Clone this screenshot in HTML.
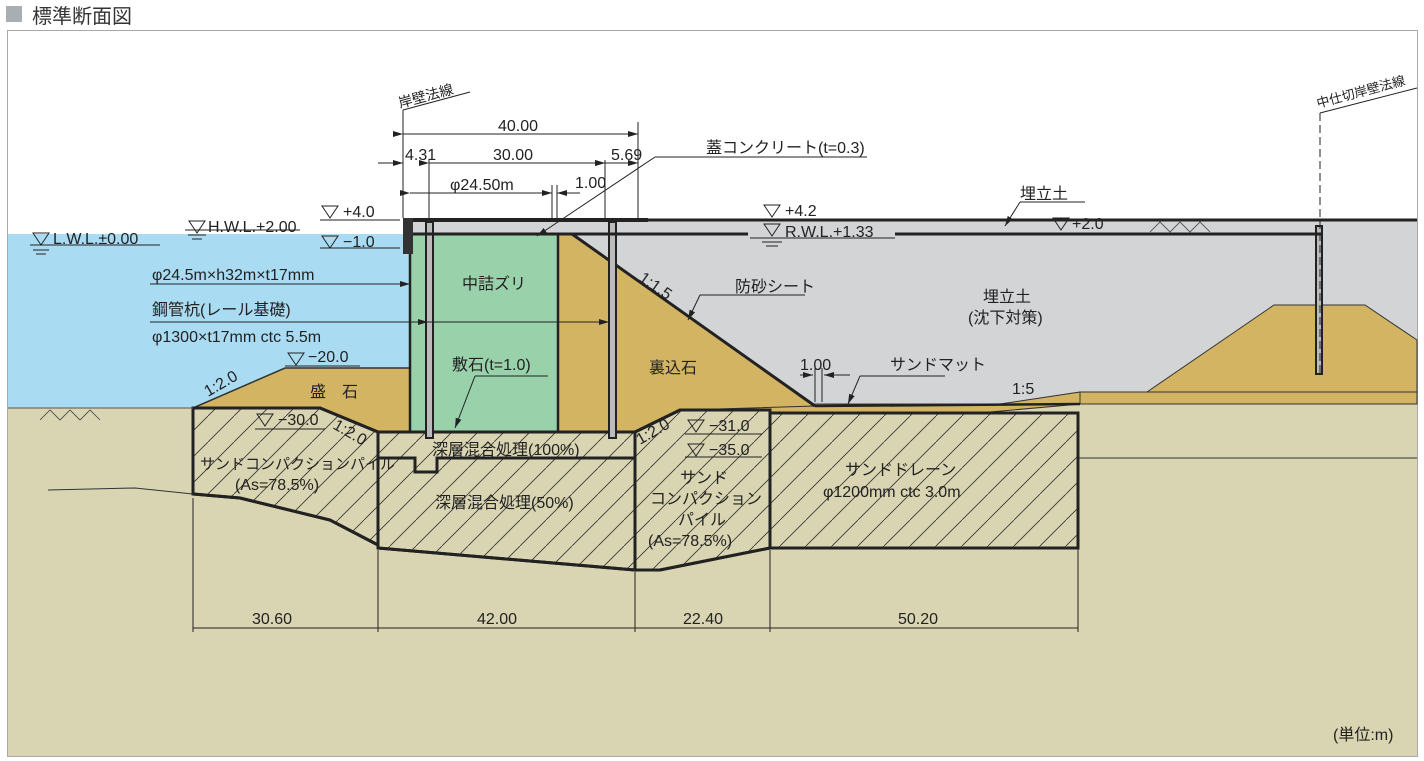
<!DOCTYPE html>
<html><head><meta charset="utf-8"><style>
html,body{margin:0;padding:0;background:#fff;}
svg{display:block;font-family:"Liberation Sans","Noto Sans CJK JP",sans-serif;}
</style></head><body>
<svg width="1424" height="761" viewBox="0 0 1424 761" xmlns="http://www.w3.org/2000/svg">
<defs>
<pattern id="h" patternUnits="userSpaceOnUse" width="26" height="26">
<line x1="0" y1="26" x2="26" y2="0" stroke="#333" stroke-width="0.8"/>
</pattern>
<marker id="a" markerWidth="10" markerHeight="6" refX="10" refY="3" orient="auto" markerUnits="userSpaceOnUse"><path d="M0,0 L10,3 L0,6z" fill="#222"/></marker>
</defs>
<rect x="6" y="6" width="16" height="16" fill="#a9aeb3"/>
<text x="32" y="23" font-size="20" fill="#333">標準断面図</text>
<rect x="7.5" y="30.5" width="1410" height="726" fill="#fff" stroke="#a9a9a9"/>
<rect x="8" y="404" width="1409" height="352" fill="#d9d4b1"/>
<rect x="8" y="234" width="402" height="174" fill="#a9dcf2"/>
<polygon points="558,220 1417,220 1417,392 1080,392 1080,404 815,406 558,406" fill="#d3d4d6"/>
<rect x="405" y="220" width="153" height="14" fill="#d3d4d6"/>
<polygon points="1147,392 1274,305 1365,305 1417,340 1417,392" fill="#d3b463" stroke="#333" stroke-width="1"/>
<rect x="1080" y="392" width="337" height="12" fill="#d3b463" stroke="#333" stroke-width="1"/>
<line x1="1078" y1="458" x2="1417" y2="458" stroke="#333"/>
<polygon points="680,410 770,404 1000,404 1080,392 1080,404 990,412 770,413" fill="#d3b463" stroke="#333" stroke-width="1"/>
<polygon points="193,408 285,368 410,368 410,432 378,432 320,408" fill="#d3b463" stroke="#333" stroke-width="1.5"/>
<polygon points="558,234 572,234 815,406 685,410 635,432 558,432" fill="#d3b463" stroke="#333" stroke-width="1"/>
<line x1="572" y1="234" x2="815" y2="406" stroke="#222" stroke-width="3"/>
<rect x="410" y="234" width="148" height="198" fill="#98d1aa" stroke="#222" stroke-width="2.5"/>
<g stroke="#222" stroke-width="3">
<polygon points="193,408 320,408 378,432 378,545 330,520 240,498 193,494" fill="#d9d4b1"/>
<polygon points="193,408 320,408 378,432 378,545 330,520 240,498 193,494" fill="url(#h)"/>
<polygon points="378,432 635,432 635,570 378,548" fill="#d9d4b1"/>
<polygon points="378,432 635,432 635,570 378,548" fill="url(#h)"/>
<polygon points="635,432 680,410 770,410 770,548 660,570 635,570" fill="#d9d4b1"/>
<polygon points="635,432 680,410 770,410 770,548 660,570 635,570" fill="url(#h)"/>
<rect x="770" y="413" width="308" height="135" fill="#d9d4b1"/>
<rect x="770" y="413" width="308" height="135" fill="url(#h)"/>
<polyline points="378,458 415,458 415,472 437,472 437,458 635,458" fill="none"/>
</g>
<polyline points="48,490 135,488 193,494" fill="none" stroke="#333"/>
<line x1="8" y1="408" x2="193" y2="408" stroke="#555"/>
<line x1="815" y1="406" x2="1080" y2="404" stroke="#222" stroke-width="2.5"/>
<g stroke="#222" stroke-width="2" fill="#bbb">
<rect x="426" y="222" width="7" height="216"/>
<rect x="609" y="222" width="7" height="216"/>
<rect x="1316" y="226" width="6" height="148"/>
</g>
<line x1="403" y1="220" x2="648" y2="220" stroke="#222" stroke-width="4"/>
<line x1="403" y1="234" x2="650" y2="234" stroke="#222" stroke-width="3"/>
<rect x="403" y="218" width="10" height="36" fill="#333"/>
<line x1="648" y1="220" x2="1417" y2="220" stroke="#222" stroke-width="3"/>
<line x1="650" y1="234" x2="748" y2="234" stroke="#222" stroke-width="3"/>
<line x1="895" y1="234" x2="1322" y2="234" stroke="#222" stroke-width="3"/>
<g stroke="#444" stroke-width="0.8" fill="none">
<polyline points="40,420 50,410 60,420 70,410 80,420 90,410 100,420"/>
<polyline points="1150,232 1160,222 1170,232 1180,222 1190,232 1200,222 1210,232"/>
</g>
<g stroke="#222" stroke-width="1" fill="none">
<line x1="403" y1="110" x2="403" y2="218"/>
<line x1="403" y1="110" x2="470" y2="92"/>
<line x1="1320" y1="113" x2="1320" y2="374" stroke-dasharray="8,4"/>
<line x1="1320" y1="113" x2="1417" y2="88"/>
<line x1="403" y1="134" x2="638" y2="134" marker-start="url(#a)" marker-end="url(#a)"/>
<line x1="638" y1="122" x2="638" y2="218"/>
<line x1="378" y1="163" x2="403" y2="163" marker-end="url(#a)"/>
<line x1="429" y1="163" x2="605" y2="163" marker-start="url(#a)" marker-end="url(#a)"/>
<line x1="605" y1="163" x2="638" y2="163" marker-start="url(#a)" marker-end="url(#a)"/>
<line x1="429" y1="160" x2="429" y2="218"/>
<line x1="605" y1="160" x2="605" y2="218"/>
<line x1="410" y1="193" x2="552" y2="193" marker-start="url(#a)" marker-end="url(#a)"/>
<line x1="552" y1="185" x2="552" y2="220"/><line x1="557" y1="185" x2="557" y2="220"/>
<line x1="580" y1="193" x2="557" y2="193" marker-end="url(#a)"/>
<line x1="867" y1="157" x2="655" y2="157"/>
<line x1="655" y1="157" x2="537" y2="236" marker-end="url(#a)"/>
<line x1="1085" y1="202" x2="1020" y2="202"/>
<line x1="1020" y1="202" x2="1005" y2="226" marker-end="url(#a)"/>
<line x1="150" y1="284" x2="410" y2="284" marker-end="url(#a)"/>
<line x1="150" y1="322" x2="428" y2="322" marker-end="url(#a)"/>
<line x1="428" y1="322" x2="609" y2="322" marker-end="url(#a)"/>
<line x1="805" y1="295" x2="700" y2="295"/>
<line x1="700" y1="295" x2="688" y2="320" marker-end="url(#a)"/>
<line x1="548" y1="376" x2="475" y2="376"/>
<line x1="475" y1="376" x2="455" y2="428" marker-end="url(#a)"/>
<line x1="945" y1="376" x2="860" y2="376"/>
<line x1="860" y1="376" x2="848" y2="404" marker-end="url(#a)"/>
<line x1="800" y1="375" x2="813" y2="375" marker-end="url(#a)"/>
<line x1="850" y1="375" x2="824" y2="375" marker-end="url(#a)"/>
<line x1="815" y1="368" x2="815" y2="402"/><line x1="822" y1="368" x2="822" y2="402"/>
<line x1="193" y1="628" x2="1078" y2="628"/>
<line x1="193" y1="498" x2="193" y2="632"/>
<line x1="378" y1="550" x2="378" y2="632"/>
<line x1="635" y1="572" x2="635" y2="632"/>
<line x1="770" y1="550" x2="770" y2="632"/>
<line x1="1078" y1="548" x2="1078" y2="632"/>
<line x1="30" y1="245" x2="160" y2="245"/>
<line x1="185" y1="230" x2="300" y2="230"/>
<line x1="320" y1="220" x2="400" y2="220"/>
<line x1="320" y1="248" x2="400" y2="248"/>
<line x1="285" y1="366" x2="360" y2="366"/>
<line x1="255" y1="429" x2="325" y2="429"/>
<line x1="685" y1="434" x2="762" y2="434"/>
<line x1="685" y1="457" x2="762" y2="457"/>
<line x1="750" y1="238" x2="895" y2="238"/>
</g>
<g stroke="#222" stroke-width="1" fill="none">
<path d="M33,233 h16 l-8,12z"/><path d="M189,221 h16 l-8,12z"/><path d="M322,206 h16 l-8,12z"/>
<path d="M322,236 h16 l-8,12z"/><path d="M288,353 h16 l-8,12z"/><path d="M257,414 h16 l-8,12z"/>
<path d="M764,205 h16 l-8,12z"/><path d="M764,224 h16 l-8,12z"/><path d="M1053,218 h16 l-8,12z"/>
<path d="M688,420 h16 l-8,12z"/><path d="M688,444 h16 l-8,12z"/>
<line x1="33" y1="250" x2="49" y2="250"/><line x1="36" y1="254" x2="46" y2="254"/>
<line x1="188" y1="235" x2="206" y2="235"/><line x1="192" y1="239" x2="202" y2="239"/>
<line x1="762" y1="242" x2="782" y2="242"/><line x1="766" y1="246" x2="778" y2="246"/>
</g>
<g font-size="16" fill="#222">
<text x="53" y="244">L.W.L.±0.00</text>
<text x="208" y="232">H.W.L.+2.00</text>
<text x="343" y="217">+4.0</text>
<text x="343" y="247">−1.0</text>
<text x="785" y="216">+4.2</text>
<text x="785" y="237">R.W.L.+1.33</text>
<text x="1072" y="229">+2.0</text>
<text x="1020" y="199">埋立土</text>
<text x="706" y="153">蓋コンクリート(t=0.3)</text>
<text x="498" y="131">40.00</text>
<text x="405" y="160">4.31</text>
<text x="493" y="160">30.00</text>
<text x="611" y="160">5.69</text>
<text x="450" y="190">φ24.50m</text>
<text x="575" y="188">1.00</text>
<text x="152" y="280">φ24.5m×h32m×t17mm</text>
<text x="152" y="315">鋼管杭(レール基礎)</text>
<text x="152" y="342">φ1300×t17mm ctc 5.5m</text>
<text x="308" y="362">−20.0</text>
<text x="278" y="425">−30.0</text>
<text x="709" y="431">−31.0</text>
<text x="709" y="455">−35.0</text>
<text x="462" y="289">中詰ズリ</text>
<text x="452" y="370">敷石(t=1.0)</text>
<text x="649" y="373">裏込石</text>
<text x="310" y="397">盛　石</text>
<text x="735" y="292">防砂シート</text>
<text x="983" y="302">埋立土</text>
<text x="968" y="323">(沈下対策)</text>
<text x="800" y="370">1.00</text>
<text x="890" y="370">サンドマット</text>
<text x="1012" y="394">1:5</text>
<text x="432" y="455">深層混合処理(100%)</text>
<text x="435" y="508">深層混合処理(50%)</text>
<text x="200" y="469" font-size="15">サンドコンパクションパイル</text>
<text x="235" y="490">(As=78.5%)</text>
<text x="680" y="483">サンド</text>
<text x="650" y="504">コンパクション</text>
<text x="678" y="525">パイル</text>
<text x="648" y="546">(As=78.5%)</text>
<text x="845" y="475">サンドドレーン</text>
<text x="823" y="497">φ1200mm ctc 3.0m</text>
<text x="252" y="624">30.60</text>
<text x="477" y="624">42.00</text>
<text x="683" y="624">22.40</text>
<text x="898" y="624">50.20</text>
<text x="1333" y="740">(単位:m)</text>
<text x="208" y="397" transform="rotate(-30 208 397)">1:2.0</text>
<text x="332" y="428" transform="rotate(30 332 428)">1:2.0</text>
<text x="640" y="445" transform="rotate(-30 640 445)">1:2.0</text>
<text x="638" y="280" transform="rotate(35 638 280)">1:1.5</text>
<text x="400" y="108" font-size="14" transform="rotate(-15 400 108)">岸壁法線</text>
<text x="1318" y="108" font-size="13" transform="rotate(-15 1318 108)">中仕切岸壁法線</text>
</g>
</svg>
</body></html>
